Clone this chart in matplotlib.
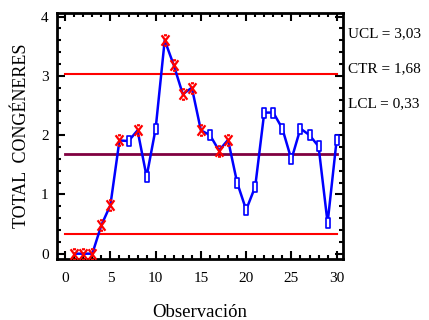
import matplotlib
matplotlib.use("Agg")
import matplotlib.pyplot as plt
from matplotlib.path import Path
from matplotlib.ticker import MultipleLocator

# Observation values for the control chart
observations = list(range(1, 31))
values = [0.0, 0.0, 0.0, 0.48, 0.82, 1.91, 1.90, 2.08, 1.30, 2.11,
          3.60, 3.18, 2.69, 2.80, 2.08, 2.00, 1.74, 1.92, 1.20, 0.74,
          1.13, 2.38, 2.38, 2.11, 1.59, 2.11, 2.00, 1.81, 0.52, 1.92]
# Points flagged by run rules (drawn with a red X)
flagged = [1, 2, 3, 4, 5, 6, 8, 11, 12, 13, 14, 15, 17, 18]

ucl, ctr, lcl = 3.03, 1.68, 0.33
limit_labels = ["UCL = 3,03", "CTR = 1,68", "LCL = 0,33"]

serif = "Liberation Serif"
plt.rcParams["font.family"] = [serif, "DejaVu Serif"]

fig = plt.figure(figsize=(4.29, 3.20), dpi=100)
ax = fig.add_axes([0.1329, 0.1906, 0.6666, 0.7688])

# control limit lines
ax.plot([0, 30], [ucl, ucl], color="#ff0000", lw=1.5, zorder=2)
ax.plot([0, 30], [lcl, lcl], color="#ff0000", lw=1.5, zorder=2)
ax.plot([0, 30], [ctr, ctr], color="#800040", lw=2.0, zorder=2)

# series line
ax.plot(observations, values, color="#0000ff", lw=1.8, zorder=3)

# marker shapes
rect = Path([(-0.5, -1), (0.5, -1), (0.5, 1), (-0.5, 1), (-0.5, -1)],
            [Path.MOVETO, Path.LINETO, Path.LINETO, Path.LINETO, Path.CLOSEPOLY])
xmark = Path([(-0.3, 1), (0.3, 1), (-0.75, 1), (0.75, -1), (-0.3, -1), (0.3, -1), (-0.75, -1), (0.75, 1)],
             [Path.MOVETO, Path.LINETO, Path.MOVETO, Path.LINETO,
              Path.MOVETO, Path.LINETO, Path.MOVETO, Path.LINETO])

fx = [o for o in observations if o in flagged]
fy = [v for o, v in zip(observations, values) if o in flagged]
nx = [o for o in observations if o not in flagged]
ny = [v for o, v in zip(observations, values) if o not in flagged]

ax.plot(nx, ny, linestyle="none", marker=rect, markersize=7, markerfacecolor="white",
        markeredgecolor="#0000ff", markeredgewidth=1.2, zorder=4)
ax.plot(fx, fy, linestyle="none", marker=xmark, markersize=7.5,
        markeredgecolor="#ff0000", markeredgewidth=1.6, zorder=4)

ax.set_xlim(-0.9, 30.7)
ax.set_ylim(-0.09, 4.06)

ax.xaxis.set_major_locator(MultipleLocator(5))
ax.xaxis.set_minor_locator(MultipleLocator(1))
ax.yaxis.set_major_locator(MultipleLocator(1))
ax.yaxis.set_minor_locator(MultipleLocator(0.2))
ax.tick_params(which="both", direction="in", top=True, right=True, width=1.5,
               labelsize=11)
ax.tick_params(axis="x", pad=9)
ax.tick_params(axis="y", pad=6)
ax.tick_params(which="major", length=6)
ax.tick_params(which="minor", length=3)
for s in ax.spines.values():
    s.set_linewidth(2.0)

ax.set_ylabel("TOTAL  CONGÉNERES", fontsize=13, labelpad=8)
ax.set_xlabel("Observación", fontsize=13.5, labelpad=14)

for lbl, yv in zip(limit_labels, [0.895, 0.785, 0.675]):
    fig.text(0.812, yv, lbl, fontsize=11, va="center", ha="left")

fig.savefig("out.png", dpi=100)
